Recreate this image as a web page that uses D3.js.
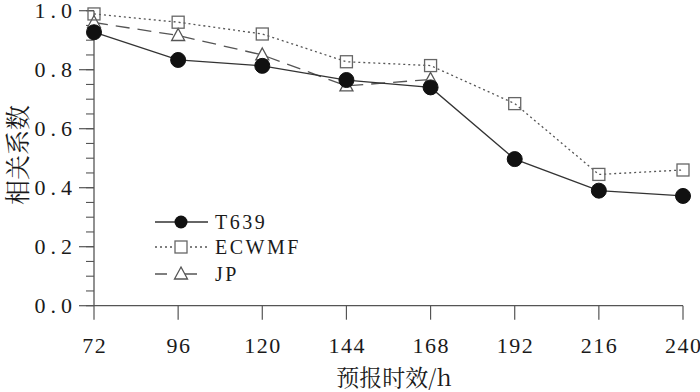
<!DOCTYPE html>
<html>
<head>
  <meta charset="UTF-8">
  <title>相关系数</title>
  <script src="https://d3js.org/d3.v7.min.js"></script>
</head>
<body style="margin:0;background:#fff">
  <div id="chart"></div>
  <script>
    // forecast lead times (h)
    const hours = [72, 96, 120, 144, 168, 192, 216, 240];
    const t639 = [0.927, 0.833, 0.813, 0.765, 0.740, 0.497, 0.390, 0.372];
    const ecwmf = [0.989, 0.961, 0.921, 0.827, 0.814, 0.685, 0.445, 0.460];
    const jp = [0.960, 0.916, 0.850, 0.745, 0.767];
    const yTicks = [0, 0.2, 0.4, 0.6, 0.8, 1.0];

    const serif = "Liberation Serif";
    const cjk = "Noto Serif CJK SC, Noto Sans CJK SC";
    const ink = "#1a1a1a";

    const width = 700, height = 392;
    const svg = d3.select("#chart").append("svg")
      .attr("width", width)
      .attr("height", height);

    const x = d3.scaleLinear().domain([72, 240]).range([94, 683]);
    const y = d3.scaleLinear().domain([0, 1]).range([305.7, 10.7]);
    const axisColor = "#555";

    // y axis with major + minor ticks
    const yAxis = svg.append("g").attr("transform", "translate(94,0)");
    yAxis.append("line")
      .attr("y1", y(0)).attr("y2", y(1))
      .attr("stroke", axisColor).attr("stroke-width", 1.3);
    yAxis.selectAll(".minor")
      .data(d3.range(0, 1.0001, 0.05))
      .enter().append("line")
      .attr("x1", -8).attr("x2", 0)
      .attr("y1", d => y(d)).attr("y2", d => y(d))
      .attr("stroke", axisColor).attr("stroke-width", 1.1);
    yAxis.selectAll(".major")
      .data(yTicks)
      .enter().append("line")
      .attr("x1", -15).attr("x2", 0)
      .attr("y1", d => y(d)).attr("y2", d => y(d))
      .attr("stroke", axisColor).attr("stroke-width", 1.2);
    yAxis.selectAll(".lbl")
      .data(yTicks)
      .enter().append("text")
      .attr("x", -17)
      .attr("y", d => y(d) + 7.5)
      .attr("text-anchor", "end")
      .attr("font-family", serif)
      .attr("font-size", 22)
      .attr("letter-spacing", 5)
      .attr("fill", ink)
      .text(d => d.toFixed(1));

    // x axis
    const xAxis = svg.append("g");
    xAxis.append("line")
      .attr("x1", x(72)).attr("x2", x(240))
      .attr("y1", y(0)).attr("y2", y(0))
      .attr("stroke", axisColor).attr("stroke-width", 1.3);
    xAxis.selectAll(".tick")
      .data(hours)
      .enter().append("line")
      .attr("x1", d => x(d)).attr("x2", d => x(d))
      .attr("y1", y(0)).attr("y2", y(0) + 14)
      .attr("stroke", axisColor).attr("stroke-width", 1.2);
    xAxis.selectAll(".lbl")
      .data(hours)
      .enter().append("text")
      .attr("x", d => x(d) + 0.75)
      .attr("y", 353)
      .attr("text-anchor", "middle")
      .attr("font-family", serif)
      .attr("font-size", 22)
      .attr("letter-spacing", 1.5)
      .attr("fill", ink)
      .text(d => d);

    // axis titles
    svg.append("text")
      .attr("x", 394).attr("y", 386)
      .attr("text-anchor", "middle")
      .attr("font-family", cjk)
      .attr("font-size", 23)
      .attr("fill", ink)
      .text("预报时效/h");
    svg.append("text")
      .attr("transform", "translate(27,155) rotate(-90)")
      .attr("text-anchor", "middle")
      .attr("font-family", cjk)
      .attr("font-size", 25)
      .attr("fill", ink)
      .text("相关系数");

    const line = d3.line().x((d, i) => x(hours[i])).y(d => y(d));

    const series = [
      { name: "T639", values: t639, dash: null, stroke: "#333", mark: "circle" },
      { name: "ECWMF", values: ecwmf, dash: "2,3", stroke: "#555", mark: "square" },
      { name: "JP", values: jp, dash: "14,8", stroke: "#555", mark: "triangle" }
    ];

    function drawMark(g, type, cx, cy) {
      if (type === "circle") {
        g.append("circle").attr("cx", cx).attr("cy", cy).attr("r", 7.5)
          .attr("fill", "#111").attr("stroke", "#111");
      } else if (type === "square") {
        g.append("rect").attr("x", cx - 6).attr("y", cy - 6)
          .attr("width", 12).attr("height", 12)
          .attr("fill", "none").attr("stroke", "#666").attr("stroke-width", 1.3);
      } else {
        g.append("path")
          .attr("d", `M${cx},${cy - 7}L${cx + 6.5},${cy + 5}L${cx - 6.5},${cy + 5}Z`)
          .attr("fill", "#fff").attr("stroke", "#555").attr("stroke-width", 1.3);
      }
    }

    // draw JP first, then ECWMF, then T639 on top
    [series[2], series[1], series[0]].forEach(s => {
      svg.append("path")
        .datum(s.values)
        .attr("d", line)
        .attr("fill", "none")
        .attr("stroke", s.stroke)
        .attr("stroke-width", 1.3)
        .attr("stroke-dasharray", s.dash);
      const g = svg.append("g");
      s.values.forEach((v, i) => drawMark(g, s.mark, x(hours[i]), y(v)));
    });

    // legend
    const legendY = [222, 247, 274];
    series.forEach((s, i) => {
      const g = svg.append("g");
      g.append("line")
        .attr("x1", 155).attr("x2", 208)
        .attr("y1", legendY[i]).attr("y2", legendY[i])
        .attr("stroke", s.stroke).attr("stroke-width", 1.3)
        .attr("stroke-dasharray", s.name === "JP" ? "12,18" : s.dash);
      if (s.mark === "circle") {
        g.append("circle").attr("cx", 181).attr("cy", legendY[i]).attr("r", 6.5).attr("fill", "#111");
      } else if (s.mark === "square") {
        g.append("rect").attr("x", 175).attr("y", legendY[i] - 6).attr("width", 12).attr("height", 12)
          .attr("fill", "#fff").attr("stroke", "#666").attr("stroke-width", 1.3);
      } else {
        g.append("path")
          .attr("d", `M181,${legendY[i] - 7}L187.5,${legendY[i] + 5}L174.5,${legendY[i] + 5}Z`)
          .attr("fill", "#fff").attr("stroke", "#555").attr("stroke-width", 1.3);
      }
      g.append("text")
        .attr("x", 215).attr("y", legendY[i] + 7)
        .attr("font-family", serif)
        .attr("font-size", 20)
        .attr("letter-spacing", 2.5)
        .attr("fill", ink)
        .text(s.name);
    });
  </script>
</body>
</html>
